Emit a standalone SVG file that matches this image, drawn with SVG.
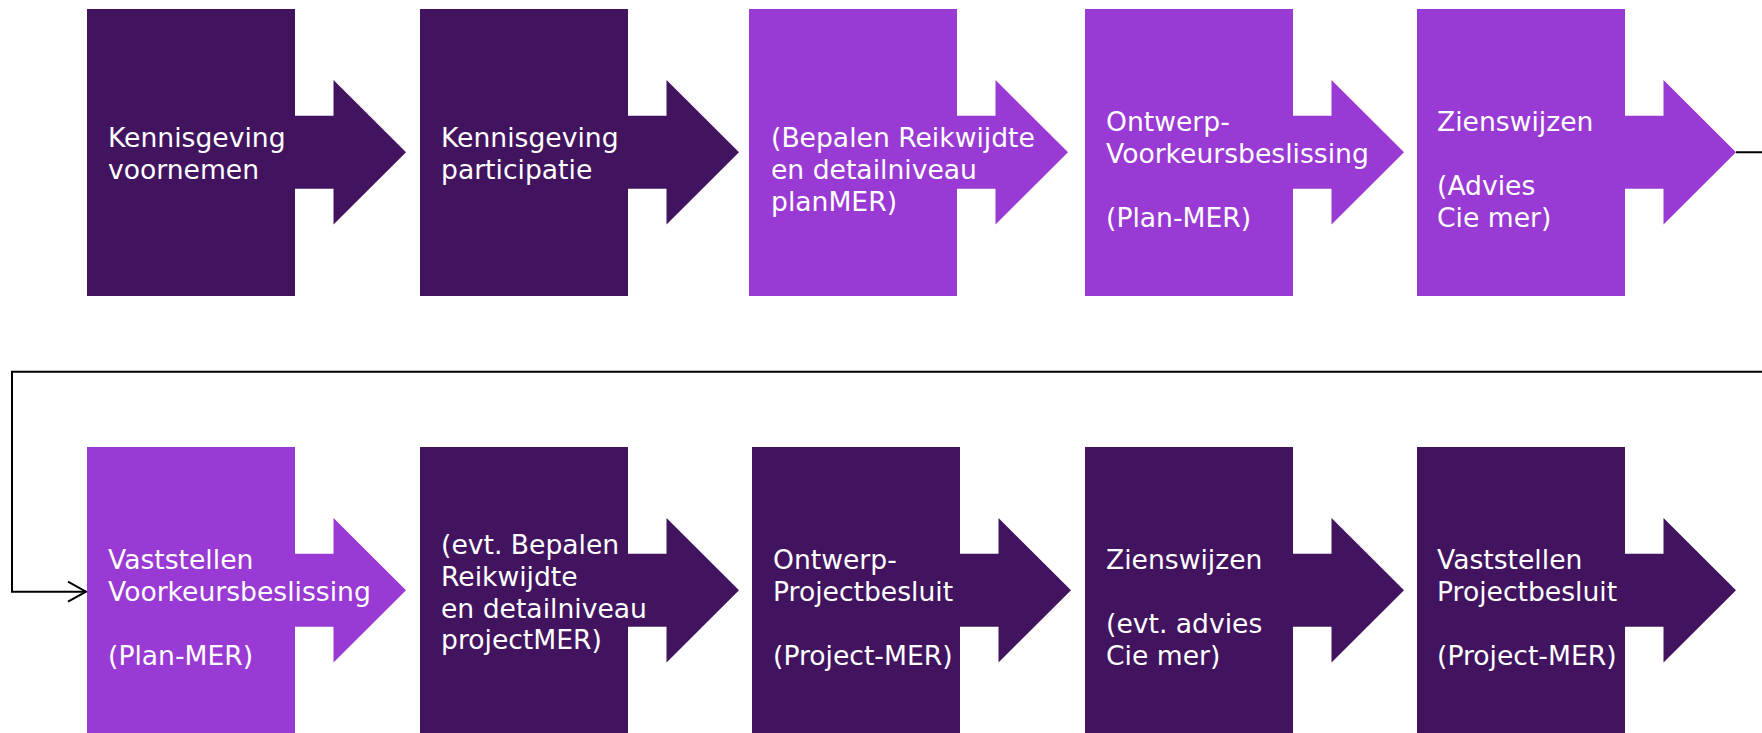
<svg xmlns="http://www.w3.org/2000/svg" xmlns:xlink="http://www.w3.org/1999/xlink" width="1762" height="733" viewBox="0 0 1762 733">
<style>
.dark{fill:#42145F}
.light{fill:#9A3AD4}
text{font-family:"DejaVu Sans","Verdana","Liberation Sans",sans-serif;font-size:26.6px;fill:#FFFFFF}
.conn{fill:none;stroke:#000000;stroke-width:2}
</style>
<defs>
<path id="shape" d="M0,0 H208 V106.7 H246.5 V71 L319,143.3 L246.5,215.5 V179.7 H208 V287 H0 Z"/>
<marker id="chev" markerUnits="userSpaceOnUse" markerWidth="24" markerHeight="24" viewBox="-20 -12 24 24" refX="0" refY="0" orient="auto">
<path d="M-18,-10 L0,0 L-18,10" fill="none" stroke="#000000" stroke-width="2"/>
</marker>
</defs>
<rect width="1762" height="733" fill="#FFFFFF"/>
<g id="connectors">
<path class="conn" d="M1736,152.3 H1775 V371.7 H12 V591.7 H86" marker-end="url(#chev)"/>
</g>
<g id="n1">
<use xlink:href="#shape" href="#shape" x="87" y="9" class="dark"/>
<text x="108" y="146.7">Kennisgeving</text>
<text x="108" y="178.7">voornemen</text>
</g>
<g id="n2">
<use xlink:href="#shape" href="#shape" x="420" y="9" class="dark"/>
<text x="441" y="146.7">Kennisgeving</text>
<text x="441" y="178.7">participatie</text>
</g>
<g id="n3">
<use xlink:href="#shape" href="#shape" x="749" y="9" class="light"/>
<text x="771" y="146.7">(Bepalen Reikwijdte</text>
<text x="771" y="178.7">en detailniveau</text>
<text x="771" y="210.7">planMER)</text>
</g>
<g id="n4">
<use xlink:href="#shape" href="#shape" x="1085" y="9" class="light"/>
<text x="1106" y="130.7">Ontwerp-</text>
<text x="1106" y="162.7">Voorkeursbeslissing</text>
<text x="1106" y="226.7">(Plan-MER)</text>
</g>
<g id="n5">
<use xlink:href="#shape" href="#shape" x="1417" y="9" class="light"/>
<text x="1437" y="130.7">Zienswijzen</text>
<text x="1437" y="194.7">(Advies</text>
<text x="1437" y="226.7">Cie mer)</text>
</g>
<g id="n6">
<use xlink:href="#shape" href="#shape" x="87" y="447" class="light"/>
<text x="108" y="569.3">Vaststellen</text>
<text x="108" y="601.3">Voorkeursbeslissing</text>
<text x="108" y="665.3">(Plan-MER)</text>
</g>
<g id="n7">
<use xlink:href="#shape" href="#shape" x="420" y="447" class="dark"/>
<text x="441" y="554.3">(evt. Bepalen</text>
<text x="441" y="586">Reikwijdte</text>
<text x="441" y="617.7">en detailniveau</text>
<text x="441" y="649.3">projectMER)</text>
</g>
<g id="n8">
<use xlink:href="#shape" href="#shape" x="752" y="447" class="dark"/>
<text x="773" y="569.3">Ontwerp-</text>
<text x="773" y="601.3">Projectbesluit</text>
<text x="773" y="665.3">(Project-MER)</text>
</g>
<g id="n9">
<use xlink:href="#shape" href="#shape" x="1085" y="447" class="dark"/>
<text x="1106" y="569.3">Zienswijzen</text>
<text x="1106" y="633.3">(evt. advies</text>
<text x="1106" y="665.3">Cie mer)</text>
</g>
<g id="n10">
<use xlink:href="#shape" href="#shape" x="1417" y="447" class="dark"/>
<text x="1437" y="569.3">Vaststellen</text>
<text x="1437" y="601.3">Projectbesluit</text>
<text x="1437" y="665.3">(Project-MER)</text>
</g>
</svg>
